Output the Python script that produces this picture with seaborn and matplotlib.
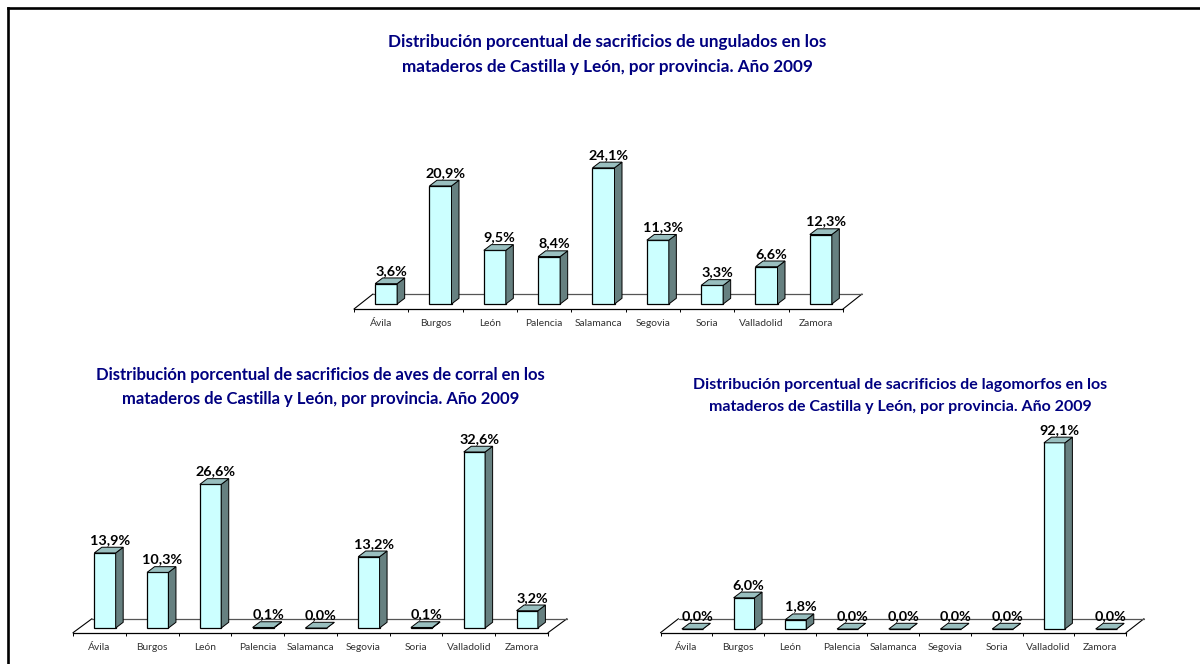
import matplotlib
matplotlib.use("Agg")
import matplotlib.pyplot as plt
import seaborn as sns
from matplotlib.patches import Polygon
from matplotlib.lines import Line2D

sns.set_theme(style="white")
plt.rcParams['font.family'] = ['Lato', 'DejaVu Sans']

W, H = 1200, 664
provincias = ["Ávila", "Burgos", "León", "Palencia", "Salamanca", "Segovia", "Soria", "Valladolid", "Zamora"]
ungulados = [3.6, 20.9, 9.5, 8.4, 24.1, 11.3, 3.3, 6.6, 12.3]
aves = [13.9, 10.3, 26.6, 0.1, 0.0, 13.2, 0.1, 32.6, 3.2]
lagomorfos = [0.0, 6.0, 1.8, 0.0, 0.0, 0.0, 0.0, 92.1, 0.0]

titulo_ungulados = "Distribución porcentual de sacrificios de ungulados en los\nmataderos de Castilla y León, por provincia. Año 2009"
titulo_aves = "Distribución porcentual de sacrificios de aves de corral en los\nmataderos de Castilla y León, por provincia. Año 2009"
titulo_lagomorfos = "Distribución porcentual de sacrificios de lagomorfos en los\nmataderos de Castilla y León, por provincia. Año 2009"

FRONT = "#CCFFFF"
SIDE = "#668080"
TOP = "#99BFBF"
NAVY = "#000080"

fig = plt.figure(figsize=(W / 100, H / 100), dpi=100, facecolor="white")


def panel(values, title, x0, x1, front_y, base_y, px_unit, ymax, floor_dx, floor_dy,
          shift, tx, ty, tsize, tspacing):
    top_y = base_y - ymax * px_unit
    ax = fig.add_axes([x0 / W, 1 - front_y / H, (x1 - x0) / W, (front_y - top_y) / H])
    ax.patch.set_alpha(0)
    sns.barplot(x=provincias, y=values, ax=ax, color=FRONT, saturation=1, width=0.405,
                edgecolor="black", linewidth=0.9, zorder=2)
    px_cat = (x1 - x0) / 9
    ax.set_xlim(-0.5, 8.5)
    ax.set_ylim(-(front_y - base_y) / px_unit, ymax)
    ddx, ddy = 7.5 / px_cat, 5.7 / px_unit
    for p, v in zip(ax.patches, values):
        p.set_x(p.get_x() + shift / px_cat)
        xl, xr = p.get_x(), p.get_x() + p.get_width()
        h = min(v, ymax)
        ax.add_patch(Polygon([(xr, 0), (xr + ddx, ddy), (xr + ddx, h + ddy), (xr, h)], closed=True,
                             fc=SIDE, ec="black", lw=0.7, zorder=2, clip_on=False))
        ax.add_patch(Polygon([(xl, h), (xl + ddx, h + ddy), (xr + ddx, h + ddy), (xr, h)], closed=True,
                             fc=TOP, ec="black", lw=0.7, zorder=2.1, clip_on=False))
        ax.text((xl + xr) / 2 + 0.09, h + ddy - 0.2, f"{v:.1f}%".replace(".", ","),
                ha="center", va="center_baseline", fontsize=10.4, fontweight="bold", color="black",
                zorder=3, clip_on=False,
                transform=ax.transData + matplotlib.transforms.ScaledTranslation(0, 9.5 / 100, fig.dpi_scale_trans))
    # floor of the 3-D box
    ymin = ax.get_ylim()[0]
    fx, fy = floor_dx / px_cat, floor_dy / px_unit
    ax.add_line(Line2D([-0.5, -0.5 + fx], [ymin, ymin + fy], color="black", lw=0.8, clip_on=False, zorder=1))
    ax.add_line(Line2D([8.5, 8.5 + fx], [ymin, ymin + fy], color="black", lw=0.8, clip_on=False, zorder=1))
    ax.add_line(Line2D([-0.5 + fx, 8.5 + fx], [ymin + fy, ymin + fy], color="#555555", lw=0.9, clip_on=False, zorder=1))
    sns.despine(ax=ax, left=True)
    ax.spines["bottom"].set_color("black")
    ax.spines["bottom"].set_linewidth(0.9)
    ax.set_yticks([])
    ax.set_xticks([i - 0.5 for i in range(10)], minor=True)
    ax.tick_params(axis="x", which="minor", bottom=True, length=2.5, width=0.7, color="black")
    ax.tick_params(axis="x", which="major", bottom=False, length=0, pad=7.5, labelsize=7.4, labelcolor="#333333")
    fig.text(tx / W, 1 - ty / H, title, ha="center", va="center", color=NAVY, fontweight="bold",
             fontsize=tsize, linespacing=tspacing)


panel(ungulados, titulo_ungulados, 354, 843, 309, 304, 5.65, 35, 19, 15, 5, 607, 54.5, 12.35, 1.65)
panel(aves, titulo_aves, 73, 548, 632.7, 628, 5.4, 35, 19, 14, 5.6, 320.5, 387, 11.95, 1.59)
panel(lagomorfos, titulo_lagomorfos, 660.5, 1126, 632.7, 629, 5.2, 35.8, 18, 14, 6, 900, 396, 11.55, 1.78)

# outer frame: only left and top edges are visible in the crop
fig.add_artist(Line2D([8 / W, 8 / W], [0, 1 - 8 / H], color="black", lw=1.9, solid_capstyle="projecting"))
fig.add_artist(Line2D([8 / W, 1], [1 - 8 / H, 1 - 8 / H], color="black", lw=1.9, solid_capstyle="projecting"))

fig.savefig("out.png", dpi=100, facecolor="white")
